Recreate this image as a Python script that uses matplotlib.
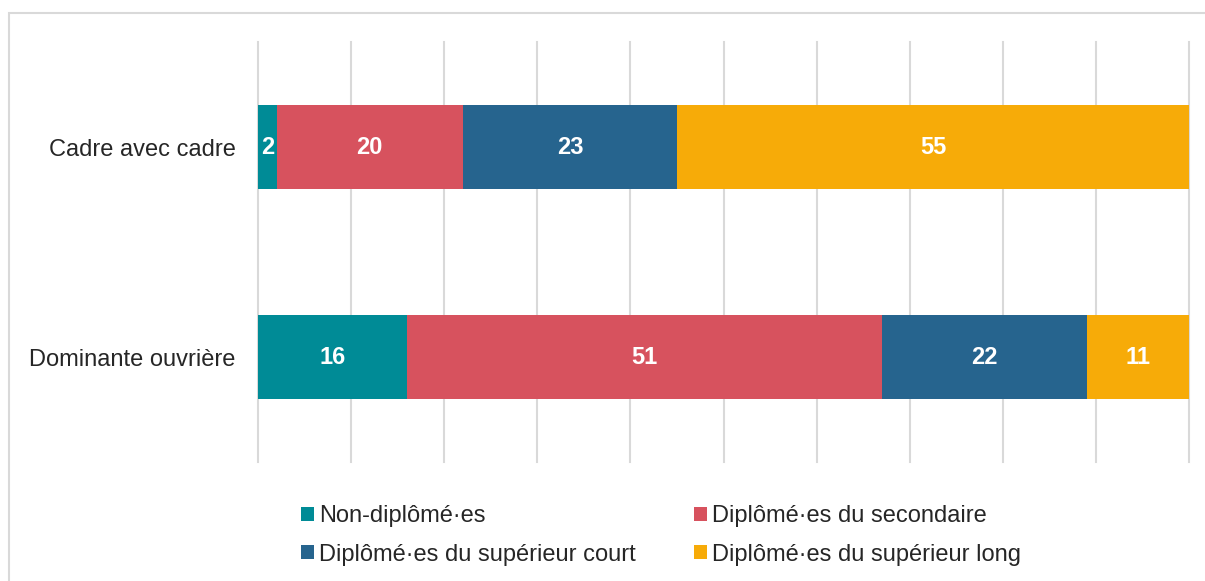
import numpy as np
import matplotlib.pyplot as plt
from matplotlib.patches import Patch, Rectangle

plt.rcParams['font.family'] = ['Liberation Sans', 'DejaVu Sans']

# data
categories = ['Cadre avec cadre', 'Dominante ouvrière']
series_names = ['Non-diplômé·es', 'Diplômé·es du secondaire',
                'Diplômé·es du supérieur court', 'Diplômé·es du supérieur long']
non_dipl = [2, 16]
secondaire = [20, 51]
sup_court = [23, 22]
sup_long = [55, 11]
colors = ['#008b96', '#d7525e', '#26648e', '#f7ab08']

fig = plt.figure(figsize=(12.05, 5.81), dpi=100)
ax = fig.add_axes([258/1205, 119/581, 931/1205, 420/581])

ypos = np.array([1, 0])
left = np.zeros(2)
for vals, col in zip([non_dipl, secondaire, sup_court, sup_long], colors):
    vals = np.array(vals, dtype=float)
    ax.barh(ypos, vals, left=left, height=0.4, color=col, zorder=3)
    for y, l, v in zip(ypos, left, vals):
        ax.text(l + v/2, y, '%d' % v, ha='center', va='center', color='white',
                fontsize=17, fontweight='bold', zorder=4)
    left = left + vals

ax.set_xlim(0, 100)
ax.set_ylim(-0.5, 1.5)
ax.set_xticks(np.arange(0, 101, 10))
ax.set_xticklabels([])
ax.tick_params(axis='x', length=0)
ax.set_yticks(ypos)
ax.set_yticklabels(categories, fontsize=17, color='#262626')
ax.tick_params(axis='y', length=0, pad=16)
ax.grid(axis='x', color='#d9d9d9', linewidth=1.5, zorder=0)
for gl in ax.get_xgridlines():
    gl.set_clip_on(False)
for s in ax.spines.values():
    s.set_visible(False)

# figure border
fig.patches.append(Rectangle((9/1205, -0.1), 1.2, (581-13)/581 + 0.1, transform=fig.transFigure,
                             fill=False, edgecolor='#d9d9d9', linewidth=1.5))

order = [0, 2, 1, 3]
handles = [Patch(facecolor=colors[i]) for i in order]
labels = [series_names[i] for i in order]
fig.legend(handles, labels, ncol=2, loc='upper left', bbox_to_anchor=(280/1205, 1 - 484/581),
           frameon=False, fontsize=17, handlelength=0.55, handleheight=0.55,
           handletextpad=0.22, columnspacing=2.45, labelspacing=0.69,
           labelcolor='#262626')

fig.savefig('out.png', dpi=100)
